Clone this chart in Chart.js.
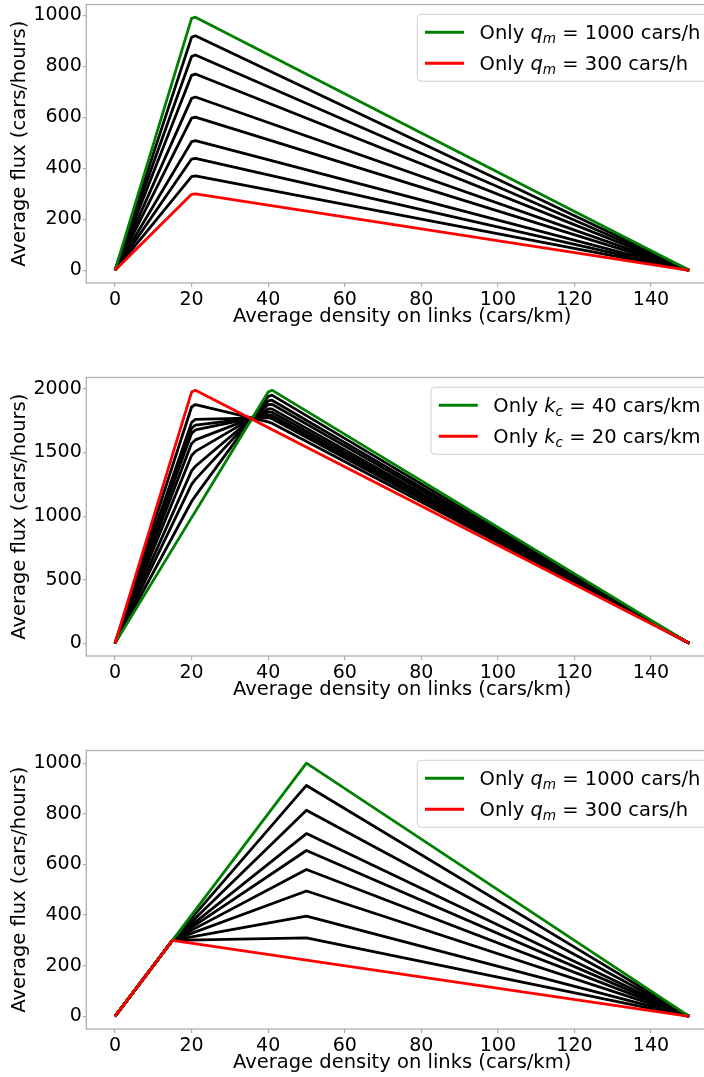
<!DOCTYPE html>
<html>
<head>
<meta charset="utf-8">
<script src="https://cdn.jsdelivr.net/npm/chart.js@4/dist/chart.umd.min.js"></script>
<style>
html, body { margin: 0; padding: 0; overflow: hidden; background: #fff; width: 704px; height: 1077px; }
.box { position: absolute; left: 0; width: 720px; height: 340px; }
</style>
</head>
<body>
<div class="box" style="top:0px"><canvas id="c1"></canvas></div>
<div class="box" style="top:373px"><canvas id="c2"></canvas></div>
<div class="box" style="top:746px"><canvas id="c3"></canvas></div>
<script>
// shared axis ticks
const xTicks = [0, 20, 40, 60, 80, 100, 120, 140];
const yTicks1000 = [0, 200, 400, 600, 800, 1000];
const yTicks2000 = [0, 500, 1000, 1500, 2000];

// plot 1: q_m varies, k_c = 20
const density1 = [0, 20, 21, 150];
const green1 = [0, 987, 992, 0];
const red1 = [0, 298, 300, 0];
const black1 = [
  [0, 913, 919, 0],
  [0, 838, 844, 0],
  [0, 764, 769, 0],
  [0, 674, 679, 0],
  [0, 596, 600, 0],
  [0, 504, 508, 0],
  [0, 436, 439, 0],
  [0, 367, 370, 0],
];

// plot 2: k_c varies between 20 and 40
const density2 = [0, 20, 21, 40, 41, 150];
const green2 = [0, 988, 1037, 1975, 1990, 0];
const red2 = [0, 1975, 1990, 1697, 1681, 0];
const black2 = [
  [0, 1858, 1877, 1741, 1730, 0],
  [0, 1737, 1760, 1774, 1766, 0],
  [0, 1691, 1716, 1785, 1779, 0],
  [0, 1650, 1677, 1796, 1791, 0],
  [0, 1570, 1599, 1819, 1816, 0],
  [0, 1477, 1509, 1843, 1843, 0],
  [0, 1356, 1392, 1876, 1879, 0],
  [0, 1250, 1289, 1905, 1911, 0],
  [0, 1115, 1159, 1941, 1951, 0],
];

// plot 3: q_m varies, k_c = 50
const density3 = [0, 15, 50, 150];
const green3 = [0, 300, 1000, 0];
const red3 = [0, 300, 222, 0];
const black3 = [
  [0, 300, 912, 0],
  [0, 300, 814, 0],
  [0, 300, 722, 0],
  [0, 300, 655, 0],
  [0, 300, 580, 0],
  [0, 300, 495, 0],
  [0, 300, 396, 0],
  [0, 300, 310, 0],
];

const legend1 = [
  { color: '#008000', sym: 'q', sub: 'm', value: '1000', unit: 'cars/h' },
  { color: '#ff0000', sym: 'q', sub: 'm', value: '300', unit: 'cars/h' },
];
const legend2 = [
  { color: '#008000', sym: 'k', sub: 'c', value: '40', unit: 'cars/km' },
  { color: '#ff0000', sym: 'k', sub: 'c', value: '20', unit: 'cars/km' },
];

Chart.defaults.font.family = 'DejaVu Sans';
Chart.defaults.font.size = 19;
Chart.defaults.color = '#000';

const FS = 19.5;
const FONT = 'DejaVu Sans';

// frame on all four sides, like matplotlib spines
const framePlugin = {
  id: 'frame',
  afterDatasetsDraw(chart) {
    const { ctx, chartArea: a } = chart;
    ctx.save();
    ctx.strokeStyle = '#b0b0b0';
    ctx.lineWidth = 1.3;
    ctx.strokeRect(a.left, a.top, a.right - a.left, a.bottom - a.top);
    ctx.restore();
  }
};

// legend with italic symbol and subscript
const mathLegend = {
  id: 'mathLegend',
  afterDraw(chart, args, opts) {
    const items = opts.items;
    if (!items) return;
    const { ctx, chartArea: a } = chart;
    const parts = items.map(it => [
      { t: 'Only ', f: `${FS}px ${FONT}`, dy: 0 },
      { t: it.sym, f: `italic ${FS}px ${FONT}`, dy: 0 },
      { t: it.sub, f: `italic ${FS * 0.7}px ${FONT}`, dy: FS * 0.2 },
      { t: ' = ' + it.value, f: `${FS}px ${FONT}`, dy: 0 },
      { t: ' ' + it.unit, f: `${FS}px ${FONT}`, dy: 0 },
    ]);
    ctx.save();
    let maxW = 0;
    parts.forEach(row => {
      let w = 0;
      row.forEach(p => { ctx.font = p.f; p.w = ctx.measureText(p.t).width; w += p.w; });
      maxW = Math.max(maxW, w);
    });
    const pad = 0.4 * FS, handle = 2 * FS, gap = 0.8 * FS;
    const boxW = pad + handle + gap + maxW + pad;
    const boxH = 67;
    const right = a.right - 0.5 * FS;
    const left = right - boxW;
    const top = a.top + 0.5 * FS;

    ctx.beginPath();
    ctx.roundRect(left, top, boxW, boxH, 4);
    ctx.fillStyle = 'rgba(255,255,255,0.8)';
    ctx.fill();
    ctx.strokeStyle = '#d0d0d0';
    ctx.lineWidth = 1;
    ctx.stroke();

    parts.forEach((row, i) => {
      const cy = top + 18 + i * 31;
      ctx.strokeStyle = items[i].color;
      ctx.lineWidth = 2.8;
      ctx.beginPath();
      ctx.moveTo(left + pad, cy);
      ctx.lineTo(left + pad + handle, cy);
      ctx.stroke();
      let x = left + pad + handle + gap;
      ctx.fillStyle = '#000';
      ctx.textBaseline = 'alphabetic';
      row.forEach(p => {
        ctx.font = p.f;
        ctx.fillText(p.t, x, cy + 7 + p.dy);
        x += p.w;
      });
    });
    ctx.restore();
  }
};

function lineSet(xs, ys, color) {
  return {
    data: xs.map((x, i) => ({ x: x, y: ys[i] })),
    borderColor: color,
    borderWidth: 2.8,
    pointRadius: 0,
    fill: false,
    tension: 0,
    borderJoinStyle: 'round',
  };
}

function makeChart(id, xs, red, green, blacks, yMin, yMax, yTicks, legendItems) {
  const datasets = [lineSet(xs, red, '#ff0000'), lineSet(xs, green, '#008000')];
  blacks.forEach(b => datasets.push(lineSet(xs, b, '#000000')));
  new Chart(document.getElementById(id), {
    type: 'line',
    data: { datasets: datasets },
    plugins: [framePlugin, mathLegend],
    options: {
      animation: false,
      responsive: true,
      maintainAspectRatio: false,
      devicePixelRatio: 1,
      layout: { padding: { top: 4.5, right: 2, left: 0, bottom: 0 } },
      plugins: {
        legend: { display: false },
        tooltip: { enabled: false },
        mathLegend: { items: legendItems },
      },
      scales: {
        x: {
          type: 'linear',
          min: -7.5,
          max: 157.5,
          afterBuildTicks: s => { s.ticks = xTicks.map(v => ({ value: v })); },
          afterFit: s => { s.height = 57; s.paddingLeft = 0; s.paddingRight = 0; },
          grid: { drawOnChartArea: false, drawTicks: true, tickLength: 4, color: '#b0b0b0', lineWidth: 1.2 },
          border: { display: false },
          ticks: { padding: 2, maxRotation: 0, autoSkip: false, callback: v => String(v) },
          title: {
            display: true,
            text: 'Average density on links (cars/km)',
            font: { size: FS },
            padding: { top: 0, bottom: 11 },
          },
        },
        y: {
          type: 'linear',
          min: yMin,
          max: yMax,
          afterBuildTicks: s => { s.ticks = yTicks.map(v => ({ value: v })); },
          afterFit: s => { s.width = 86.3; s.paddingTop = 0; s.paddingBottom = 0; },
          grid: { drawOnChartArea: false, drawTicks: true, tickLength: 3.5, color: '#b0b0b0', lineWidth: 1.2 },
          border: { display: false },
          ticks: { padding: 1, callback: v => String(v) },
          title: {
            display: true,
            text: 'Average flux (cars/hours)',
            font: { size: FS },
            padding: { top: 8.5, bottom: 0 },
          },
        },
      },
    },
  });
}

makeChart('c1', density1, red1, green1, black1, -49.6, 1041.6, yTicks1000, legend1);
makeChart('c2', density2, red2, green2, black2, -99.5, 2089.5, yTicks2000, legend2);
makeChart('c3', density3, red3, green3, black3, -50, 1050, yTicks1000, legend1);
</script>
</body>
</html>
